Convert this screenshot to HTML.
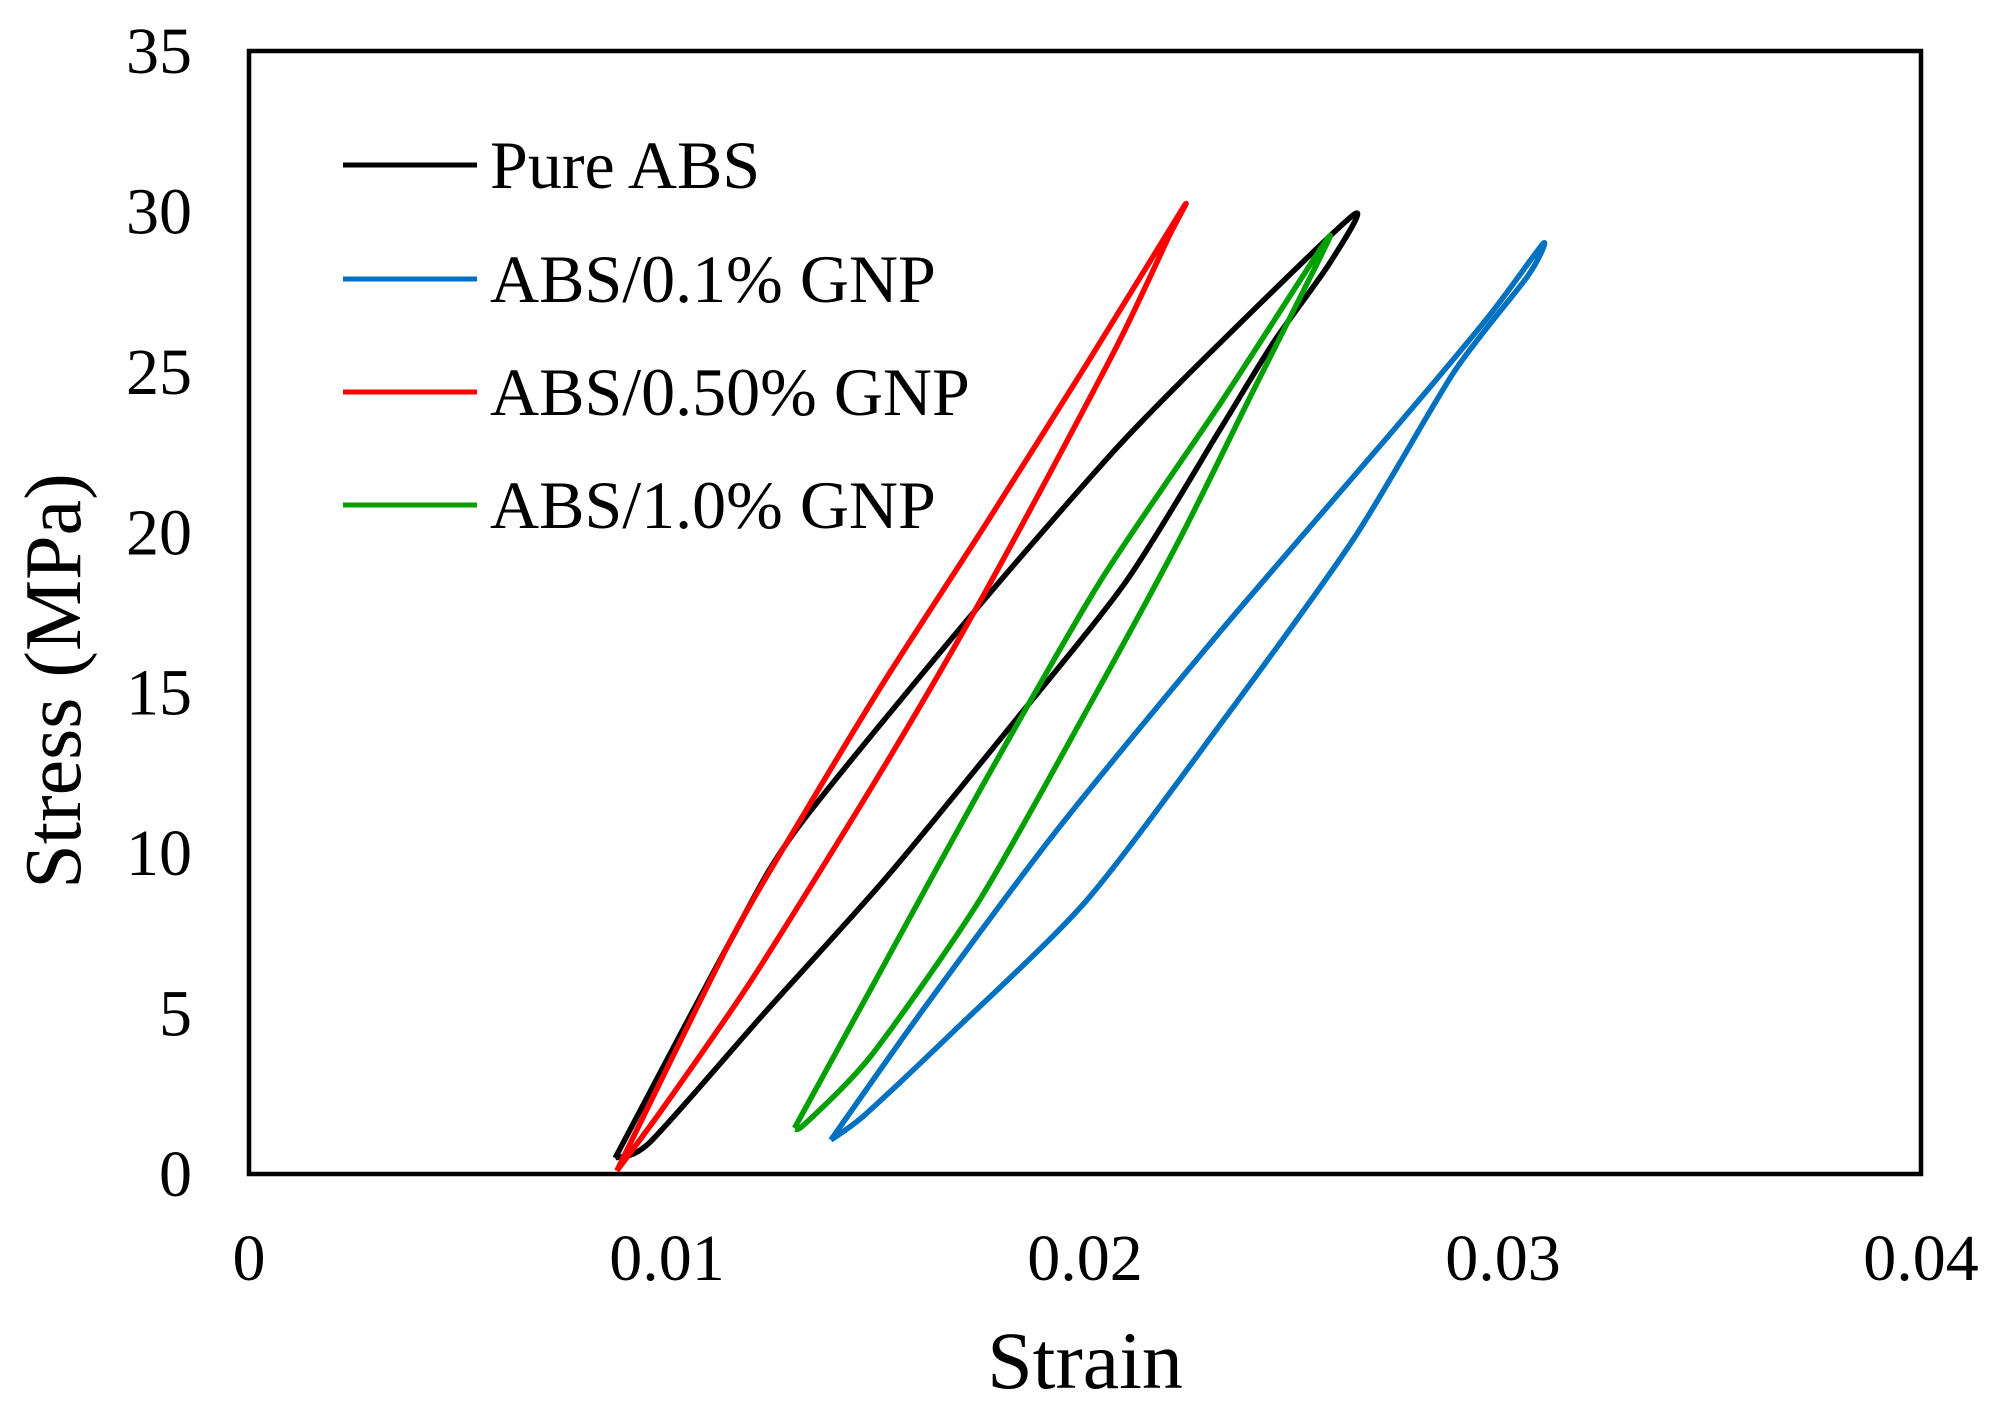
<!DOCTYPE html>
<html><head><meta charset="utf-8"><style>
html,body{margin:0;padding:0;background:#fff}
svg{display:block}
text{font-family:"Liberation Serif",serif;fill:#000}
</style></head><body>
<svg id="chart" width="1995" height="1414" viewBox="0 0 1995 1414">
<rect x="0" y="0" width="1995" height="1414" fill="#fff"/>
<g id="ticks"></g>
<g id="series"></g>
<rect x="249" y="51" width="1672" height="1123" fill="none" stroke="#000" stroke-width="4.5"/>
<text x="1085" y="1388" font-size="82" text-anchor="middle">Strain</text>
<text transform="translate(80,681) rotate(-90)" font-size="80" text-anchor="middle">Stress (MPa)</text>
<g id="legend"></g>
</svg>
<script>
const xTicks=[0,0.01,0.02,0.03,0.04];
const xTickLabels=["0","0.01","0.02","0.03","0.04"];
const yTicks=[0,5,10,15,20,25,30,35];
const yTickLabels=["0","5","10","15","20","25","30","35"];
const seriesNames=["Pure ABS","ABS/0.1% GNP","ABS/0.50% GNP","ABS/1.0% GNP"];
const seriesColors=["#000000","#0070c0","#ff0000","#00a000"];
const pureStrain=[0.00876,0.01153,0.01313,0.01746,0.02081,0.02323,0.02643,0.02586,0.0245,0.02323,0.0210,0.01825,0.01522,0.01232,0.0096,0.00876];
const pureStress=[0.5,7.3,10.8,17.7,22.7,25.9,29.9,28.4,25.9,23.2,18.5,14.0,9.2,5.0,1.0,0.5];
const gnp01Strain=[0.01392,0.01617,0.01938,0.02323,0.02739,0.02964,0.03096,0.03060,0.02883,0.02643,0.02323,0.02002,0.01682,0.01474,0.01392];
const gnp01Stress=[1.06,5.2,10.8,16.9,23.2,26.7,29.0,28.0,25.0,19.8,14.0,8.5,4.4,1.85,1.06];
const gnp05Strain=[0.0088,0.01153,0.01329,0.01522,0.0176,0.02002,0.02234,0.0220,0.0208,0.01873,0.01682,0.01473,0.0120,0.00993,0.0088];
const gnp05Stress=[0.1,7.3,11.25,15.4,20.2,25.2,30.1,29.2,25.9,20.8,16.3,11.7,6.0,2.1,0.1];
const gnp10Strain=[0.01305,0.01489,0.01746,0.02033,0.02323,0.02572,0.0256,0.02402,0.02227,0.02002,0.01746,0.01489,0.01329,0.01305];
const gnp10Stress=[1.43,5.8,11.9,18.4,24.0,29.0,28.5,24.4,19.8,14.4,8.5,3.7,1.55,1.43];

const NS="http://www.w3.org/2000/svg";
const L=249,R=1921,T=51,B=1174;
const xs=v=>L+(v-0)/(0.04-0)*(R-L);
const ys=v=>B-(v-0)/(35-0)*(B-T);

const tg=document.getElementById('ticks');
xTicks.forEach((v,i)=>{
  const t=document.createElementNS(NS,'text');
  t.setAttribute('x',xs(v));t.setAttribute('y',1280);
  t.setAttribute('font-size','66');t.setAttribute('text-anchor','middle');
  t.textContent=xTickLabels[i];
  
  
  tg.appendChild(t);
});
yTicks.forEach((v,i)=>{
  const t=document.createElementNS(NS,'text');
  t.setAttribute('x',192);t.setAttribute('y',ys(v)+22);
  t.setAttribute('font-size','66');t.setAttribute('text-anchor','end');
  t.textContent=yTickLabels[i];
  
  
  tg.appendChild(t);
});

function smoothPath(px,py){
  const n=px.length;let d=`M${px[0]},${py[0]}`;
  for(let i=0;i<n-1;i++){
    const p0=i>0?i-1:i,p3=i+2<n?i+2:i+1;
    const c1x=px[i]+(px[i+1]-px[p0])/8,c1y=py[i]+(py[i+1]-py[p0])/8;
    const c2x=px[i+1]-(px[p3]-px[i])/8,c2y=py[i+1]-(py[p3]-py[i])/8;
    d+=` C${c1x},${c1y} ${c2x},${c2y} ${px[i+1]},${py[i+1]}`;
  }
  return d;
}
const sg=document.getElementById('series');
const allS=[[pureStrain,pureStress],[gnp01Strain,gnp01Stress],[gnp05Strain,gnp05Stress],[gnp10Strain,gnp10Stress]];
const seriesKeys=["pure-abs","abs-0-1-gnp","abs-0-50-gnp","abs-1-0-gnp"];
allS.forEach((s,k)=>{
  const p=document.createElementNS(NS,'path');
  p.setAttribute('d',smoothPath(s[0].map(xs),s[1].map(ys)));
  p.setAttribute('fill','none');p.setAttribute('stroke',seriesColors[k]);
  p.setAttribute('stroke-width','5.5');p.setAttribute('stroke-linejoin','round');
  
  
  sg.appendChild(p);
});
const lg=document.getElementById('legend');
const legY=[165,279,392,505];
seriesNames.forEach((nm,k)=>{
  const g=document.createElementNS(NS,'g');
  
  
  const l=document.createElementNS(NS,'line');
  l.setAttribute('x1',343);l.setAttribute('x2',477);l.setAttribute('y1',legY[k]);l.setAttribute('y2',legY[k]);
  l.setAttribute('stroke',seriesColors[k]);l.setAttribute('stroke-width','5');
  const t=document.createElementNS(NS,'text');
  t.setAttribute('x',490);t.setAttribute('y',legY[k]+23);t.setAttribute('font-size','68');
  t.textContent=nm;
  g.appendChild(l);g.appendChild(t);lg.appendChild(g);
});
</script>
</body></html>
